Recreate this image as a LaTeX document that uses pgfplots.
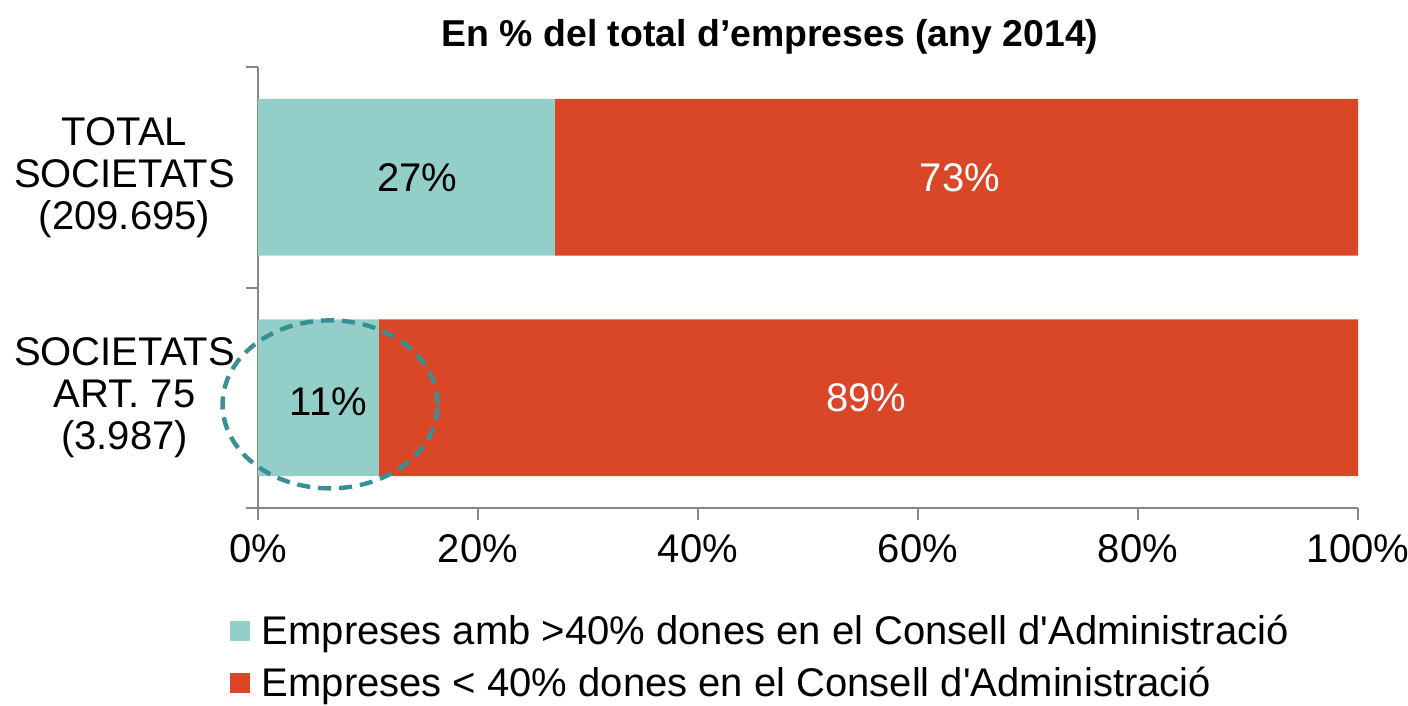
\documentclass[border=0pt]{standalone}
\usepackage{fontspec}
\setmainfont{Liberation Sans}
\usepackage{pgfplots}
\pgfplotsset{compat=1.18}
\definecolor{tealbar}{HTML}{93CFC8}
\definecolor{redbar}{HTML}{D94728}
\definecolor{axisgray}{HTML}{868686}
\definecolor{ringteal}{HTML}{3A8F94}

\pgfplotsset{sqlegend/.style={legend image code/.code={\fill[##1] (0bp,-5bp) rectangle (10bp,5bp); \path (14bp,0bp);}}}

\begin{document}
\begin{tikzpicture}[font=\fontsize{20bp}{21bp}\selectfont]
\path[use as bounding box] (-129bp,-99bp) rectangle (575bp,254bp);
\begin{axis}[
  at={(0,0)}, anchor=south west,
  scale only axis, width=550bp, height=220.5bp,
  xbar stacked, bar width=0.712,
  xmin=0, xmax=100, ymin=-0.5, ymax=1.5,
  axis x line=bottom, axis y line=left,
  axis line style={axisgray, line width=1bp, -},
  tick style={axisgray, line width=1bp},
  tick align=outside, major tick length=6bp,
  xtick={0,20,40,60,80,100},
  xticklabels={0\%,20\%,40\%,60\%,80\%,100\%},
  xticklabel style={yshift=-4bp},
  ytick={-0.5,0.5,1.5}, yticklabels={},
  extra y ticks={0,1},
  extra y tick labels={{SOCIETATS\\ART. 75\\(3.987)},{TOTAL\\SOCIETATS\\(209.695)}},
  extra y tick style={major tick length=0pt, yticklabel style={align=center, xshift=-8bp}},
  clip=false,
  legend style={at={(-0.026,-0.233)}, anchor=north west, draw=none, fill=none,
    inner sep=0pt, row sep=5.5bp, nodes={inner sep=2bp}},
  legend cell align=left,
]
\addplot[draw=none, fill=tealbar, sqlegend] coordinates {(27,1) (11,0)};
\addplot[draw=none, fill=redbar, sqlegend] coordinates {(73,1) (89,0)};
\legend{Empreses amb >40\% dones en el Consell d\textquotesingle Administració,
        Empreses < 40\% dones en el Consell d\textquotesingle Administració}
\coordinate (l27) at (axis cs:14.5,1);
\coordinate (l73) at (axis cs:63.8,1);
\coordinate (l11) at (axis cs:6.4,-0.02);
\coordinate (l89) at (axis cs:55.3,0);
\coordinate (ring) at (axis cs:6.55,-0.03);
\end{axis}
\node at (l27) {27\%};
\node[white] at (l73) {73\%};
\node at (l11) {11\%};
\node[white] at (l89) {89\%};
\draw[ringteal, line width=2.2bp, dash pattern=on 6.5bp off 4bp]
  (ring) ellipse [x radius=53.75bp, y radius=42bp];
\node[anchor=base, font=\bfseries\fontsize{18.7bp}{20bp}\selectfont] at (256bp,230.5bp) {En \% del total d’empreses (any 2014)};
\end{tikzpicture}
\end{document}
